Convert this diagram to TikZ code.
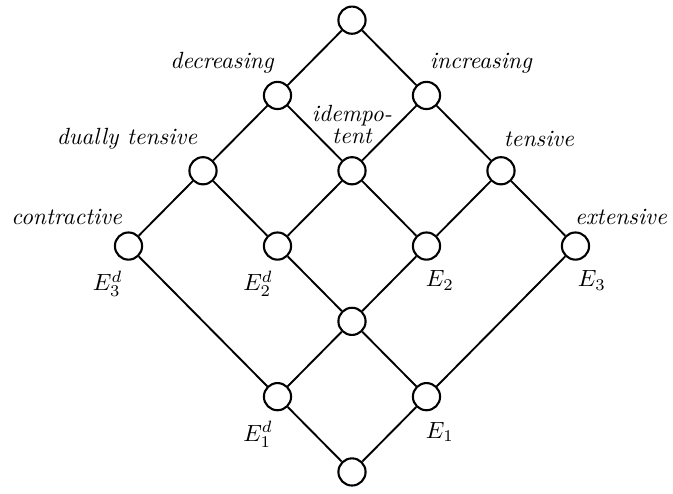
\documentclass[tikz,border=0pt]{standalone}
\usepackage{amsmath}
\usetikzlibrary{positioning}
\tikzset{
  lattice point/.style={
    circle,
    draw=black,
    fill=white,
    line width=0.9pt,
    minimum size=11.6pt,
    inner sep=0pt
  },
  order edge/.style={
    draw=black,
    line width=0.8pt
  },
  property/.style={
    font=\itshape,
    align=center,
    inner sep=0pt
  },
  generator/.style={
    inner sep=0pt
  }
}
\newcommand{\linkpoints}[1]{%
  \foreach \a/\b in {#1}{
    \draw[order edge] (\a) -- (\b);
  }
}

\begin{document}
\begin{tikzpicture}[x=1.1175cm,y=1.1295cm]
  \useasboundingbox (-4.725,-0.292) rectangle (4.309,6.268);

  \node[lattice point] (P-top)  at ( 0,6) {};
  \node[lattice point] (P-dec)  at (-1,5) {};
  \node[lattice point] (P-inc)  at ( 1,5) {};
  \node[lattice point] (P-dten) at (-2,4) {};
  \node[lattice point] (P-idem) at ( 0,4) {};
  \node[lattice point] (P-ten)  at ( 2,4) {};
  \node[lattice point] (P-con)  at (-3,3) {};
  \node[lattice point] (P-E2d)  at (-1,3) {};
  \node[lattice point] (P-E2)   at ( 1,3) {};
  \node[lattice point] (P-ext)  at ( 3,3) {};
  \node[lattice point] (P-mid)  at ( 0,2) {};
  \node[lattice point] (P-E1d)  at (-1,1) {};
  \node[lattice point] (P-E1)   at ( 1,1) {};
  \node[lattice point] (P-bot)  at ( 0,0) {};

  \linkpoints{P-top/P-dec,P-top/P-inc,P-dec/P-dten,P-dec/P-idem,
    P-inc/P-idem,P-inc/P-ten,P-dten/P-con,P-dten/P-E2d,P-idem/P-E2d,
    P-idem/P-E2,P-ten/P-E2,P-ten/P-ext,P-con/P-E1d,P-E2d/P-mid,
    P-E2/P-mid,P-ext/P-E1,P-mid/P-E1d,P-mid/P-E1,P-E1d/P-bot,P-E1/P-bot}

  \node[property] (L-dec)  at (-1.745,5.43) {decreasing};
  \node[property] (L-inc)  at ( 1.73,5.43) {increasing};
  \node[property] (L-idem) at ( 0,4.61) {idempo-\\[-2.6pt]tent};
  \node[property] (L-dten) at (-3.02,4.42) {dually tensive};
  \node[property] (L-ten)  at ( 2.51,4.42) {tensive};
  \node[property] (L-con)  at (-3.83,3.39) {contractive};
  \node[property] (L-ext)  at ( 3.61,3.39) {extensive};

  \node[generator] (G-E3d) at (-3.28,2.50) {$E_3^d$};
  \node[generator] (G-E2d) at (-1.26,2.50) {$E_2^d$};
  \node[generator] (G-E2)  at ( 1.18,2.54) {$E_2$};
  \node[generator] (G-E3)  at ( 3.22,2.54) {$E_3$};
  \node[generator] (G-E1d) at (-1.26,0.50) {$E_1^d$};
  \node[generator] (G-E1)  at ( 1.18,0.53) {$E_1$};
\end{tikzpicture}
\end{document}
